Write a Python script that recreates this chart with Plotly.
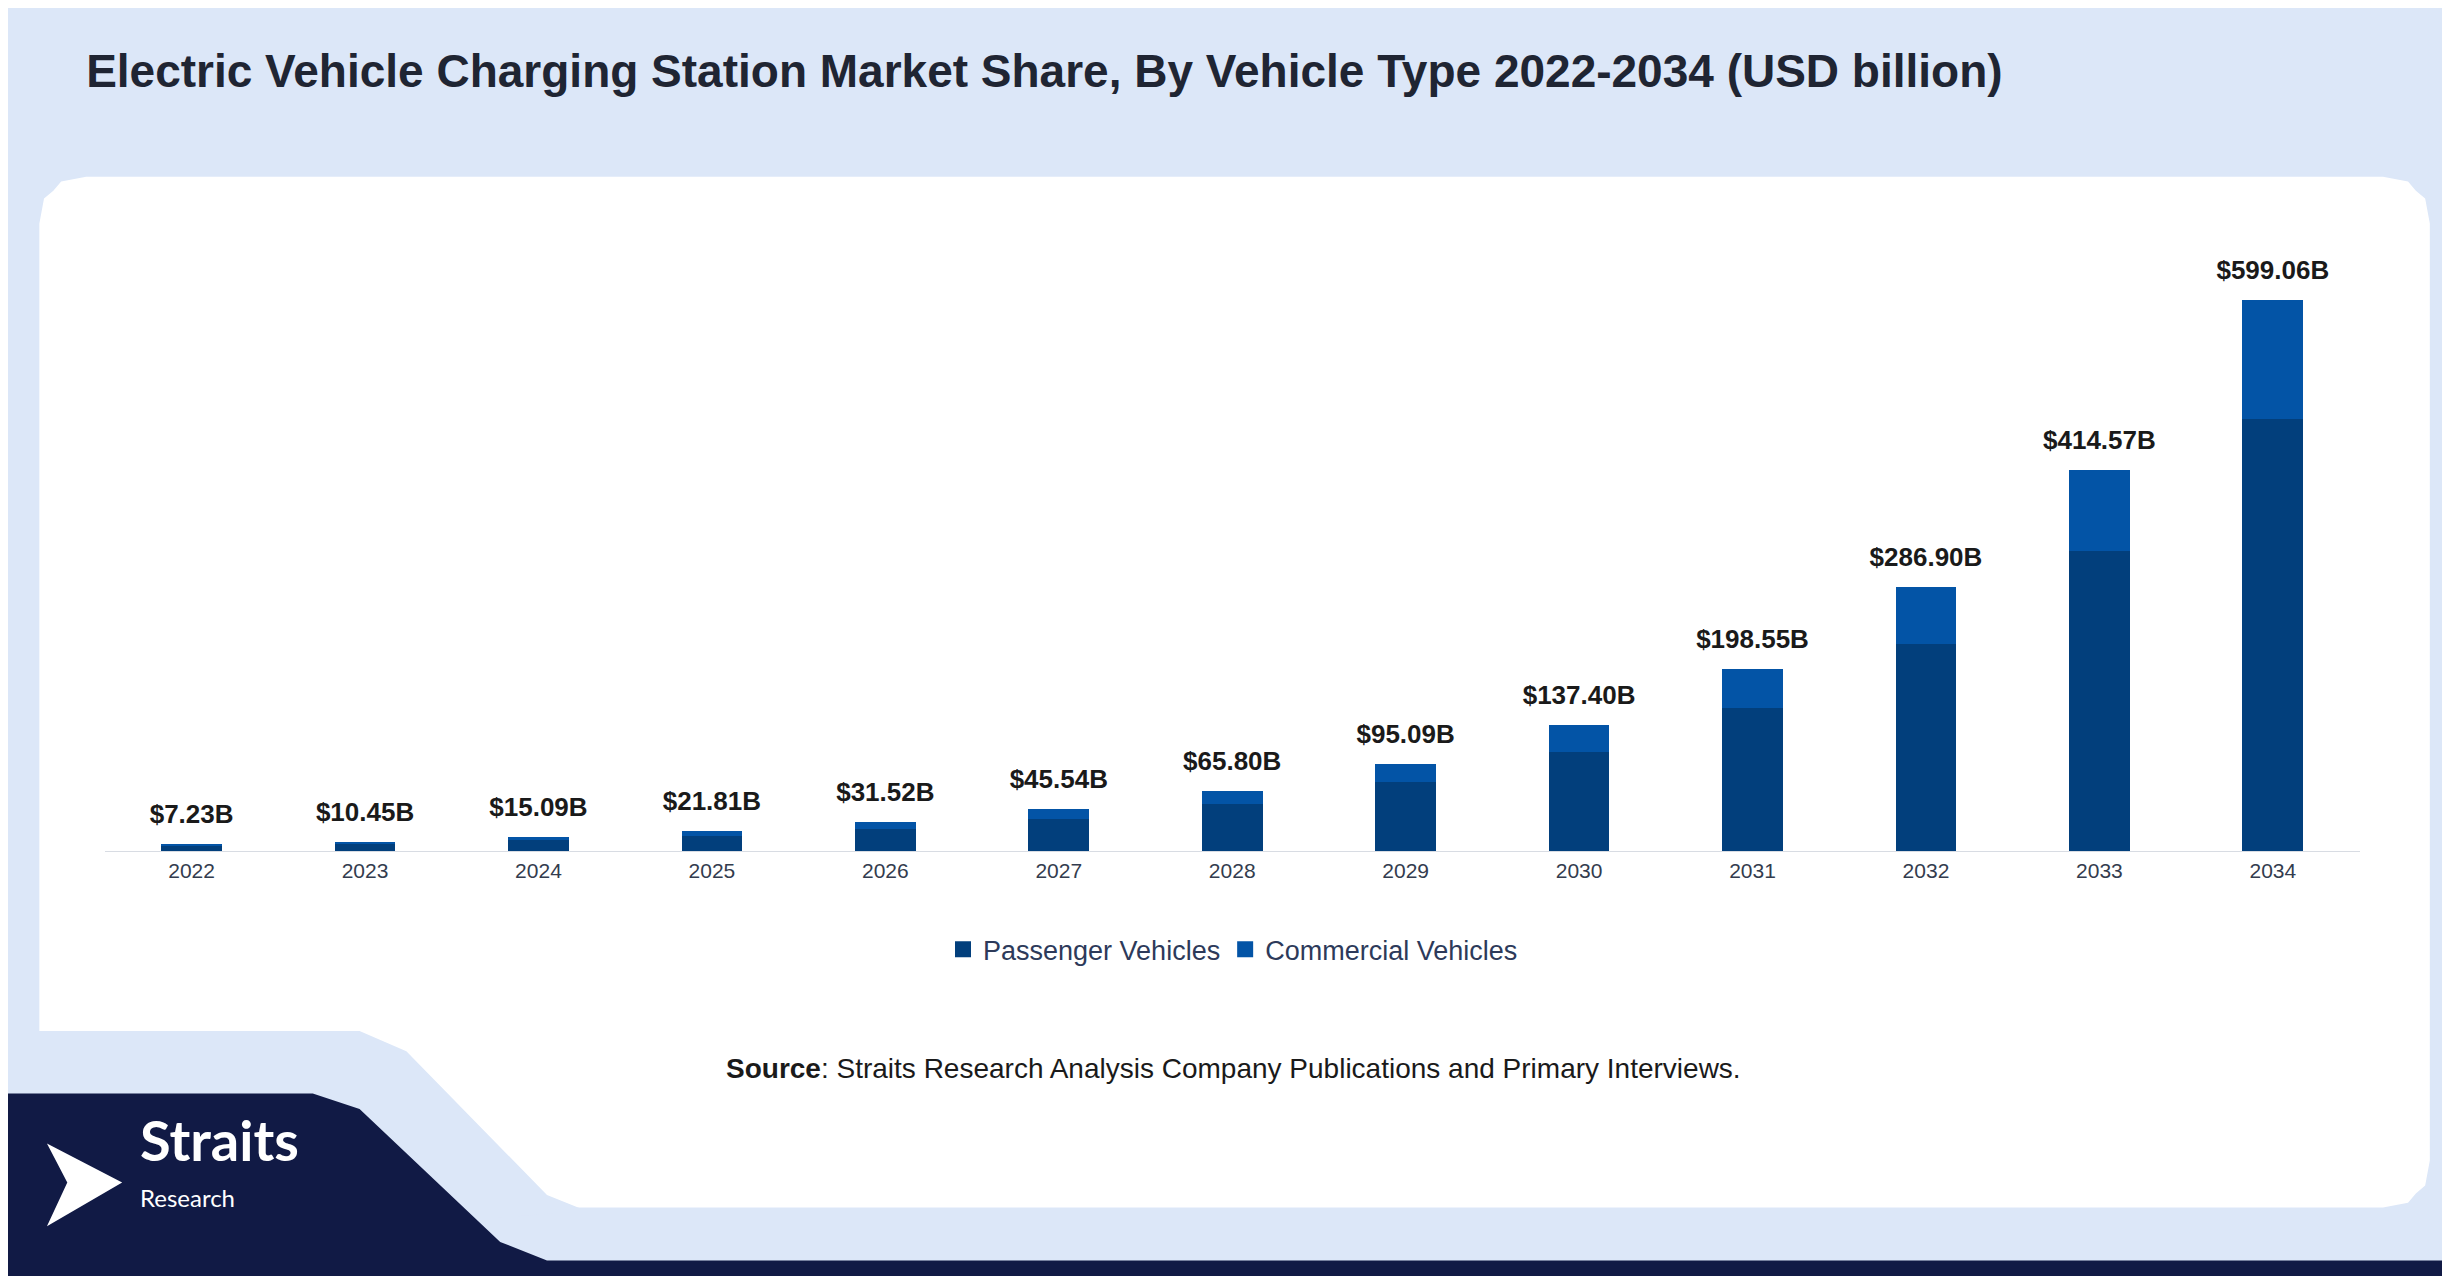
import plotly.graph_objects as go

years = ["2022", "2023", "2024", "2025", "2026", "2027", "2028", "2029", "2030", "2031", "2032", "2033", "2034"]
totals = [7.23, 10.45, 15.09, 21.81, 31.52, 45.54, 65.80, 95.09, 137.40, 198.55, 286.90, 414.57, 599.06]
commercial = [1.5, 2.2, 3.2, 4.6, 7.0, 10.0, 14.0, 20.0, 29.0, 42.5, 61.0, 88.0, 129.0]
passenger = [round(t - c, 2) for t, c in zip(totals, commercial)]

PASS_COL = "#023f7c"
COMM_COL = "#0354a6"

W, H = 1568, 817  # reference layout units


def px(x):
    return x / W


def py(y):
    return 1 - y / H


def path(points):
    return "M " + " L ".join(f"{px(x):.4f},{py(y):.4f}" for x, y in points) + " Z"


fig = go.Figure()
fig.add_trace(go.Bar(x=years, y=passenger, name="Passenger Vehicles", showlegend=False,
                     marker=dict(color=PASS_COL, line=dict(width=0)), width=0.35))
fig.add_trace(go.Bar(x=years, y=commercial, name="Commercial Vehicles", showlegend=False,
                     marker=dict(color=COMM_COL, line=dict(width=0)), width=0.35))
# total labels above bars (invisible marker pushes the text up)
fig.add_trace(go.Scatter(x=years, y=totals, mode="markers+text", showlegend=False, hoverinfo="skip",
                         marker=dict(size=22, opacity=0),
                         text=[f"<b>${t:.2f}B</b>" for t in totals], textposition="top center",
                         cliponaxis=False,
                         textfont=dict(family="Liberation Sans, Arial", size=26, color="#1a1a1a")))
# legend entries with large squares
for name, col in [("Passenger Vehicles", PASS_COL), ("Commercial Vehicles", COMM_COL)]:
    fig.add_trace(go.Scatter(x=[years[0]], y=[None], mode="markers", name=name,
                             marker=dict(symbol="square", size=30, color=col)))

shapes = []
# white panel with rounded corners
r = 30
x0, x1, y0, y1 = 20, 1550, 108, 768
shapes.append(dict(type="path", xref="paper", yref="paper", layer="below",
                   fillcolor="white", line=dict(width=0),
                   path=path([(x0, y0 + r), (x0 + 3, y0 + 14), (x0 + 9, y0 + 9), (x0 + 14, y0 + 3), (x0 + r, y0),
                              (x1 - r, y0), (x1 - 14, y0 + 3), (x1 - 9, y0 + 9), (x1 - 3, y0 + 14),
                              (x1, y0 + r), (x1, y1 - r), (x1 - 3, y1 - 14), (x1 - 9, y1 - 9), (x1 - 14, y1 - 3),
                              (x1 - r, y1), (x0 + r, y1), (x0 + 9, y1 - 9), (x0, y1 - r)])))
# light blue cut in bottom-left of panel
shapes.append(dict(type="path", xref="paper", yref="paper", layer="below",
                   fillcolor="#dce7f8", line=dict(width=0),
                   path=path([(0, 655), (225, 655), (255, 668), (345, 760), (370, 770), (0, 800)])))
# navy logo block and bottom strip
shapes.append(dict(type="path", xref="paper", yref="paper", layer="below",
                   fillcolor="#111a45", line=dict(width=0),
                   path=path([(0, 695), (195, 695), (225, 705), (315, 790), (345, 802),
                              (1568, 802), (1568, 817), (0, 817)])))
# logo arrow
shapes.append(dict(type="path", xref="paper", yref="paper",
                   fillcolor="white", line=dict(width=0),
                   path=path([(25, 727), (73, 752), (25, 780), (38, 752)])))

fig.add_annotation(x=px(83), y=py(747), xref="paper", yref="paper", text="<b>Straits</b>",
                   showarrow=False, xanchor="left", font=dict(family="Lato", size=56, color="white"))
fig.add_annotation(x=px(83), y=py(772), xref="paper", yref="paper", text="Research",
                   showarrow=False, xanchor="left", font=dict(family="Lato", size=24, color="white"))
fig.add_annotation(x=0.5, y=py(690), xref="paper", yref="paper",
                   text="<b>Source</b>: Straits Research Analysis Company Publications and Primary Interviews.",
                   showarrow=False, font=dict(family="Liberation Sans, Arial", size=28, color="#1a1a1a"))

fig.update_layout(
    width=2450, height=1276,
    margin=dict(l=0, r=0, t=0, b=0),
    paper_bgcolor="#dce7f8", plot_bgcolor="rgba(0,0,0,0)",
    barmode="stack",
    shapes=shapes,
    title=dict(text="<b>Electric Vehicle Charging Station Market Share, By Vehicle Type 2022-2034 (USD billion)</b>",
               x=px(50), y=py(40), xanchor="left", yanchor="middle",
               font=dict(family="Liberation Sans, Arial", size=46, color="#1f2533")),
    xaxis=dict(type="category", domain=[px(62), px(1505)], range=[-0.5, len(years) - 0.5],
               showgrid=False, showline=True, linecolor="#d8dce3", ticks="",
               tickfont=dict(family="Liberation Sans, Arial", size=21, color="#333c4e")),
    yaxis=dict(domain=[py(540), py(136)], range=[0, 686], visible=False),
    legend=dict(orientation="h", x=0.5, xanchor="center", y=py(603), yanchor="middle",
                traceorder="normal", bgcolor="rgba(0,0,0,0)",
                font=dict(family="Liberation Sans, Arial", size=27, color="#2d3a5a"),
                itemsizing="trace"),
)

fig.write_html("out.html")
